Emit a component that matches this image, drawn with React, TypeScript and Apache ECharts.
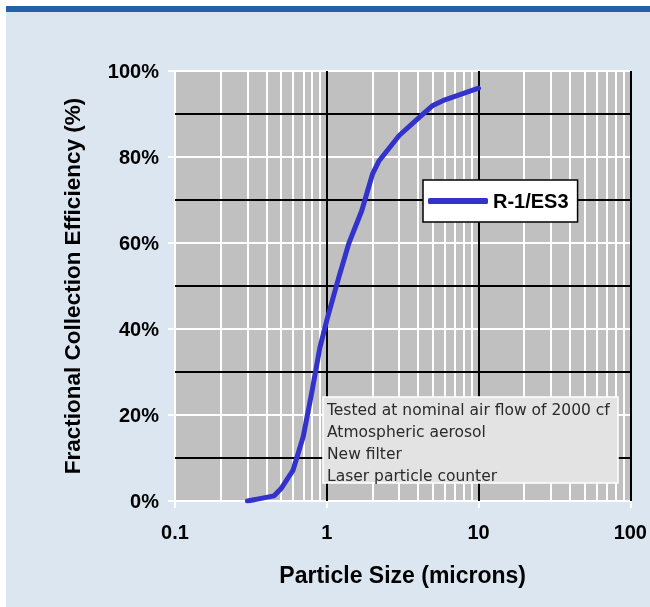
import React, { useEffect, useRef } from "react";
import * as echarts from "echarts";

const SERIES_NAME = "R-1/ES3";
const SIZES = [0.3, 0.45, 0.5, 0.6, 0.7, 0.8, 0.9, 1.0, 1.2, 1.4, 1.7, 2.0, 2.2, 3.0, 4.0, 5.0, 6.0, 10];
const EFFICIENCY = [0, 1.2, 2.9, 7.2, 15, 25.6, 35.6, 42, 52, 60, 67.5, 76, 79, 85, 89, 92, 93.3, 96];
const MINOR_X = [0.2, 0.3, 0.4, 0.5, 0.6, 0.7, 0.8, 0.9, 2, 3, 4, 5, 6, 7, 8, 9, 20, 30, 40, 50, 60, 70, 80, 90];
const DARK_Y = [10, 30, 50, 70, 90];
const NOTE_LINES = [
  "Tested at nominal air flow of 2000 cfm",
  "Atmospheric aerosol",
  "New filter",
  "Laser particle counter",
];

const FONT = "'Liberation Sans', Arial, sans-serif";

export default function App() {
  const ref = useRef<HTMLDivElement>(null);
  useEffect(() => {
    if (!ref.current) return;
    const chart = echarts.init(ref.current, undefined, { renderer: "svg" });
    const data = SIZES.map((s, i) => [s, EFFICIENCY[i]]);
    const noteTexts = NOTE_LINES.map((t, i) => ({
      type: "text",
      x: 327,
      y: 410 + i * 22,
      z: 21,
      style: {
        text: t,
        fill: "#2a2a2a",
        font: "15.5px 'DejaVu Sans', sans-serif",
        verticalAlign: "middle",
        width: 293,
        overflow: "truncate",
        ellipsis: "",
      },
    }));
    chart.setOption({
      animation: false,
      graphic: {
        elements: [
          { type: "rect", shape: { x: 6, y: 6, width: 644, height: 601 }, style: { fill: "#dce6f0" }, z: -100, silent: true },
          { type: "rect", shape: { x: 6, y: 6, width: 644, height: 6 }, style: { fill: "#2461a9" }, z: -99, silent: true },
          {
            type: "rect",
            shape: { x: 323, y: 397, width: 295, height: 86 },
            style: { fill: "#e3e3e3", stroke: "#ffffff", lineWidth: 1.5 },
            z: 20,
            silent: true,
          },
          ...noteTexts,
        ],
      },
      grid: {
        left: 175,
        right: 16,
        top: 71,
        bottom: 106,
        show: true,
        backgroundColor: "#c0c0c0",
        borderWidth: 0,
      },
      legend: {
        data: [SERIES_NAME],
        z: 20,
        left: 423,
        top: 180,
        padding: [11, 9, 11, 5],
        itemWidth: 60,
        itemHeight: 6,
        icon: "roundRect",
        itemStyle: { color: "#3333cc" },
        backgroundColor: "#ffffff",
        borderColor: "#000000",
        borderWidth: 1.5,
        textStyle: { fontFamily: FONT, fontWeight: "bold", fontSize: 20, color: "#000" },
      },
      xAxis: {
        type: "log",
        logBase: 10,
        min: 0.1,
        max: 100,
        name: "Particle Size (microns)",
        nameLocation: "middle",
        nameGap: 62,
        nameTextStyle: { fontFamily: FONT, fontWeight: "bold", fontSize: 23, color: "#000" },
        axisLine: { show: false },
        axisTick: { show: true, length: 7, lineStyle: { color: "#ffffff", width: 2 } },
        axisLabel: {
          margin: 21,
          fontFamily: FONT,
          fontWeight: "bold",
          fontSize: 20,
          color: "#000",
          formatter: (v: number) => String(v),
        },
        splitLine: { show: true, lineStyle: { color: ["#ffffff", "#000000", "#000000", "#000000"], width: 2 } },
      },
      yAxis: {
        type: "value",
        min: 0,
        max: 100,
        interval: 20,
        name: "Fractional Collection Efficiency (%)",
        nameLocation: "middle",
        nameGap: 91,
        nameTextStyle: { fontFamily: FONT, fontWeight: "bold", fontSize: 22.5, color: "#000" },
        axisLine: { show: false },
        axisTick: { show: true, length: 7, lineStyle: { color: "#ffffff", width: 2 } },
        axisLabel: {
          margin: 16,
          fontFamily: FONT,
          fontWeight: "bold",
          fontSize: 20,
          color: "#000",
          formatter: "{value}%",
        },
        splitLine: { show: true, lineStyle: { color: "#ffffff", width: 2 } },
      },
      series: [
        {
          name: "grid-lines",
          type: "line",
          data: [],
          z: 1,
          silent: true,
          markLine: {
            z: 1,
            silent: true,
            symbol: ["none", "none"],
            label: { show: false },
            emphasis: { disabled: true },
            data: [
              ...MINOR_X.map((v) => ({ xAxis: v, lineStyle: { color: "#ffffff", width: 2, type: "solid" } })),
              ...DARK_Y.map((v) => ({ yAxis: v, lineStyle: { color: "#000000", width: 2, type: "solid" } })),
            ],
          },
        },
        {
          name: SERIES_NAME,
          type: "line",
          data,
          z: 5,
          symbol: "none",
          smooth: false,
          lineStyle: { color: "#3333cc", width: 5, cap: "round", join: "round" },
          itemStyle: { color: "#3333cc" },
        },
      ],
    });
    return () => chart.dispose();
  }, []);
  return (
    <div
      ref={ref}
      style={{ position: "fixed", left: 0, top: 0, width: 650, height: 607 }}
    />
  );
}
